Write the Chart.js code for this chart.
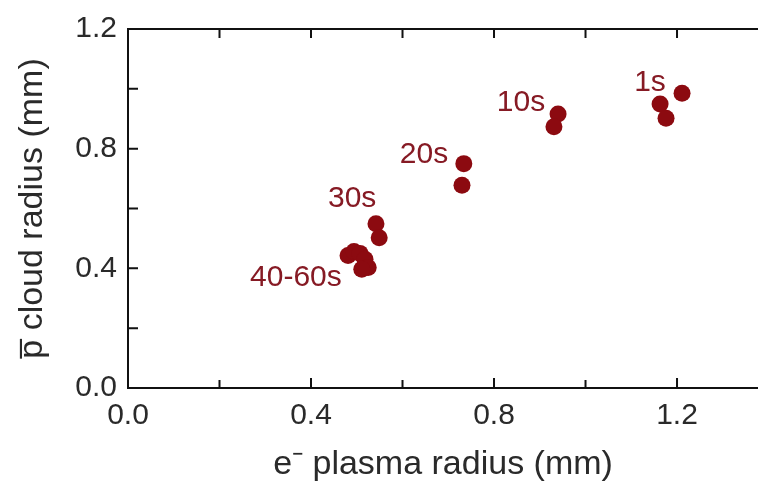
<!doctype html>
<html>

<head>
    <title>Cloud radius vs plasma radius</title>
    <script src="https://cdn.jsdelivr.net/npm/chart.js@4.4.1/dist/chart.umd.min.js"></script>
    <style>
    html, body { margin: 0; padding: 0; background: #fff; }
    #wrap { width: 758px; height: 487px; }
    </style>
</head>

<body>
    <div id="wrap">
        <canvas id="myChart"></canvas>
    </div>
    <script>
    // values (mm)
    var plasmaRadius = [1.211, 1.163, 1.176, 0.940, 0.931, 0.734, 0.730, 0.542, 0.549,
                        0.481, 0.494, 0.507, 0.518, 0.525, 0.511];
    var cloudRadius  = [0.985, 0.949, 0.902, 0.916, 0.873, 0.750, 0.678, 0.549, 0.502,
                        0.443, 0.456, 0.450, 0.430, 0.403, 0.397];

    // time labels and where they sit (data units)
    var groupLabels = ["1s", "10s", "20s", "30s", "40-60s"];
    var labelX      = [1.141, 0.859, 0.647, 0.490, 0.367];
    var labelY      = [1.021, 0.952, 0.780, 0.631, 0.370];

    var tickValues = [0, 0.2, 0.4, 0.6, 0.8, 1.0, 1.2];
    var tickLabels = ["0.0", "0.4", "0.8", "1.2"];

    var dotColor = '#8c0a10';
    var textColor = '#861a24';
    var font = "'Liberation Sans', Arial, sans-serif";

    function labelFor(v) {
        var s = v.toFixed(1);
        return tickLabels.indexOf(s) >= 0 ? s : '';
    }

    function setTicks(scale) {
        scale.ticks = tickValues.map(function(v) { return { value: v }; });
    }

    // axes frame with inward ticks, plus the time labels
    var framePlugin = {
        id: 'frame',
        afterDraw: function(chart) {
            var ctx = chart.ctx;
            var a = chart.chartArea;
            var xs = chart.scales.x, ys = chart.scales.y;
            ctx.save();
            ctx.strokeStyle = '#111';
            ctx.lineWidth = 2;
            ctx.beginPath();
            ctx.moveTo(a.left, a.top);
            ctx.lineTo(a.left, a.bottom);
            ctx.moveTo(a.left - 1, a.bottom);
            ctx.lineTo(a.right, a.bottom);
            ctx.moveTo(a.left - 1, a.top);
            ctx.lineTo(a.right, a.top);
            tickValues.forEach(function(v) {
                var major = labelFor(v) !== '';
                var px = xs.getPixelForValue(v);
                var py = ys.getPixelForValue(v);
                if (v > 0) {
                    ctx.moveTo(px, a.bottom);
                    ctx.lineTo(px, a.bottom - (major ? 10 : 8));
                    ctx.moveTo(px, a.top);
                    ctx.lineTo(px, a.top + 9);
                }
                if (v > 0 && v < 1.2) {
                    ctx.moveTo(a.left, py);
                    ctx.lineTo(a.left + 10, py);
                }
            });
            ctx.stroke();

            ctx.fillStyle = textColor;
            ctx.font = "30px " + font;
            ctx.textAlign = 'center';
            ctx.textBaseline = 'middle';
            groupLabels.forEach(function(t, i) {
                ctx.fillText(t, xs.getPixelForValue(labelX[i]), ys.getPixelForValue(labelY[i]));
            });
            ctx.restore();
        }
    };

    function drawGraph() {
        var ctx = document.getElementById('myChart').getContext('2d');
        var points = plasmaRadius.map(function(x, i) { return { x: x, y: cloudRadius[i] }; });
        var chart = new Chart(ctx, {
            type: 'scatter',
            data: {
                datasets: [{
                    data: points,
                    backgroundColor: dotColor,
                    borderColor: dotColor,
                    borderWidth: 0,
                    pointRadius: 8.5
                }]
            },
            options: {
                responsive: true,
                maintainAspectRatio: false,
                animation: false,
                layout: { autoPadding: false, padding: { top: 25, right: 0, left: 0, bottom: 0 } },
                plugins: {
                    legend: { display: false },
                    tooltip: { enabled: false }
                },
                scales: {
                    x: {
                        type: 'linear',
                        min: 0,
                        max: 1.377,
                        afterBuildTicks: setTicks,
                        afterFit: function(s) { s.height = 99; },
                        grid: { display: false, drawTicks: false },
                        border: { display: false },
                        ticks: {
                            autoSkip: false,
                            maxRotation: 0,
                            padding: 10,
                            color: '#2a2a2a',
                            font: { family: font, size: 30 },
                            callback: labelFor
                        },
                        title: {
                            display: true,
                            text: 'e\u207B plasma radius (mm)',
                            color: '#2a2a2a',
                            font: { family: font, size: 34 },
                            padding: { top: 0, bottom: 2 }
                        }
                    },
                    y: {
                        type: 'linear',
                        min: 0,
                        max: 1.2,
                        afterBuildTicks: setTicks,
                        afterFit: function(s) { s.width = 128; },
                        grid: { display: false, drawTicks: false },
                        border: { display: false },
                        ticks: {
                            autoSkip: false,
                            padding: 11,
                            color: '#2a2a2a',
                            font: { family: font, size: 30 },
                            callback: labelFor
                        },
                        title: {
                            display: true,
                            text: 'p\u0305 cloud radius (mm)',
                            color: '#2a2a2a',
                            font: { family: font, size: 34 },
                            padding: { top: 12, bottom: 0 }
                        }
                    }
                }
            },
            plugins: [framePlugin]
        });
    }

    window.onload = function() {
        drawGraph();
    };
    </script>
</body>

</html>
